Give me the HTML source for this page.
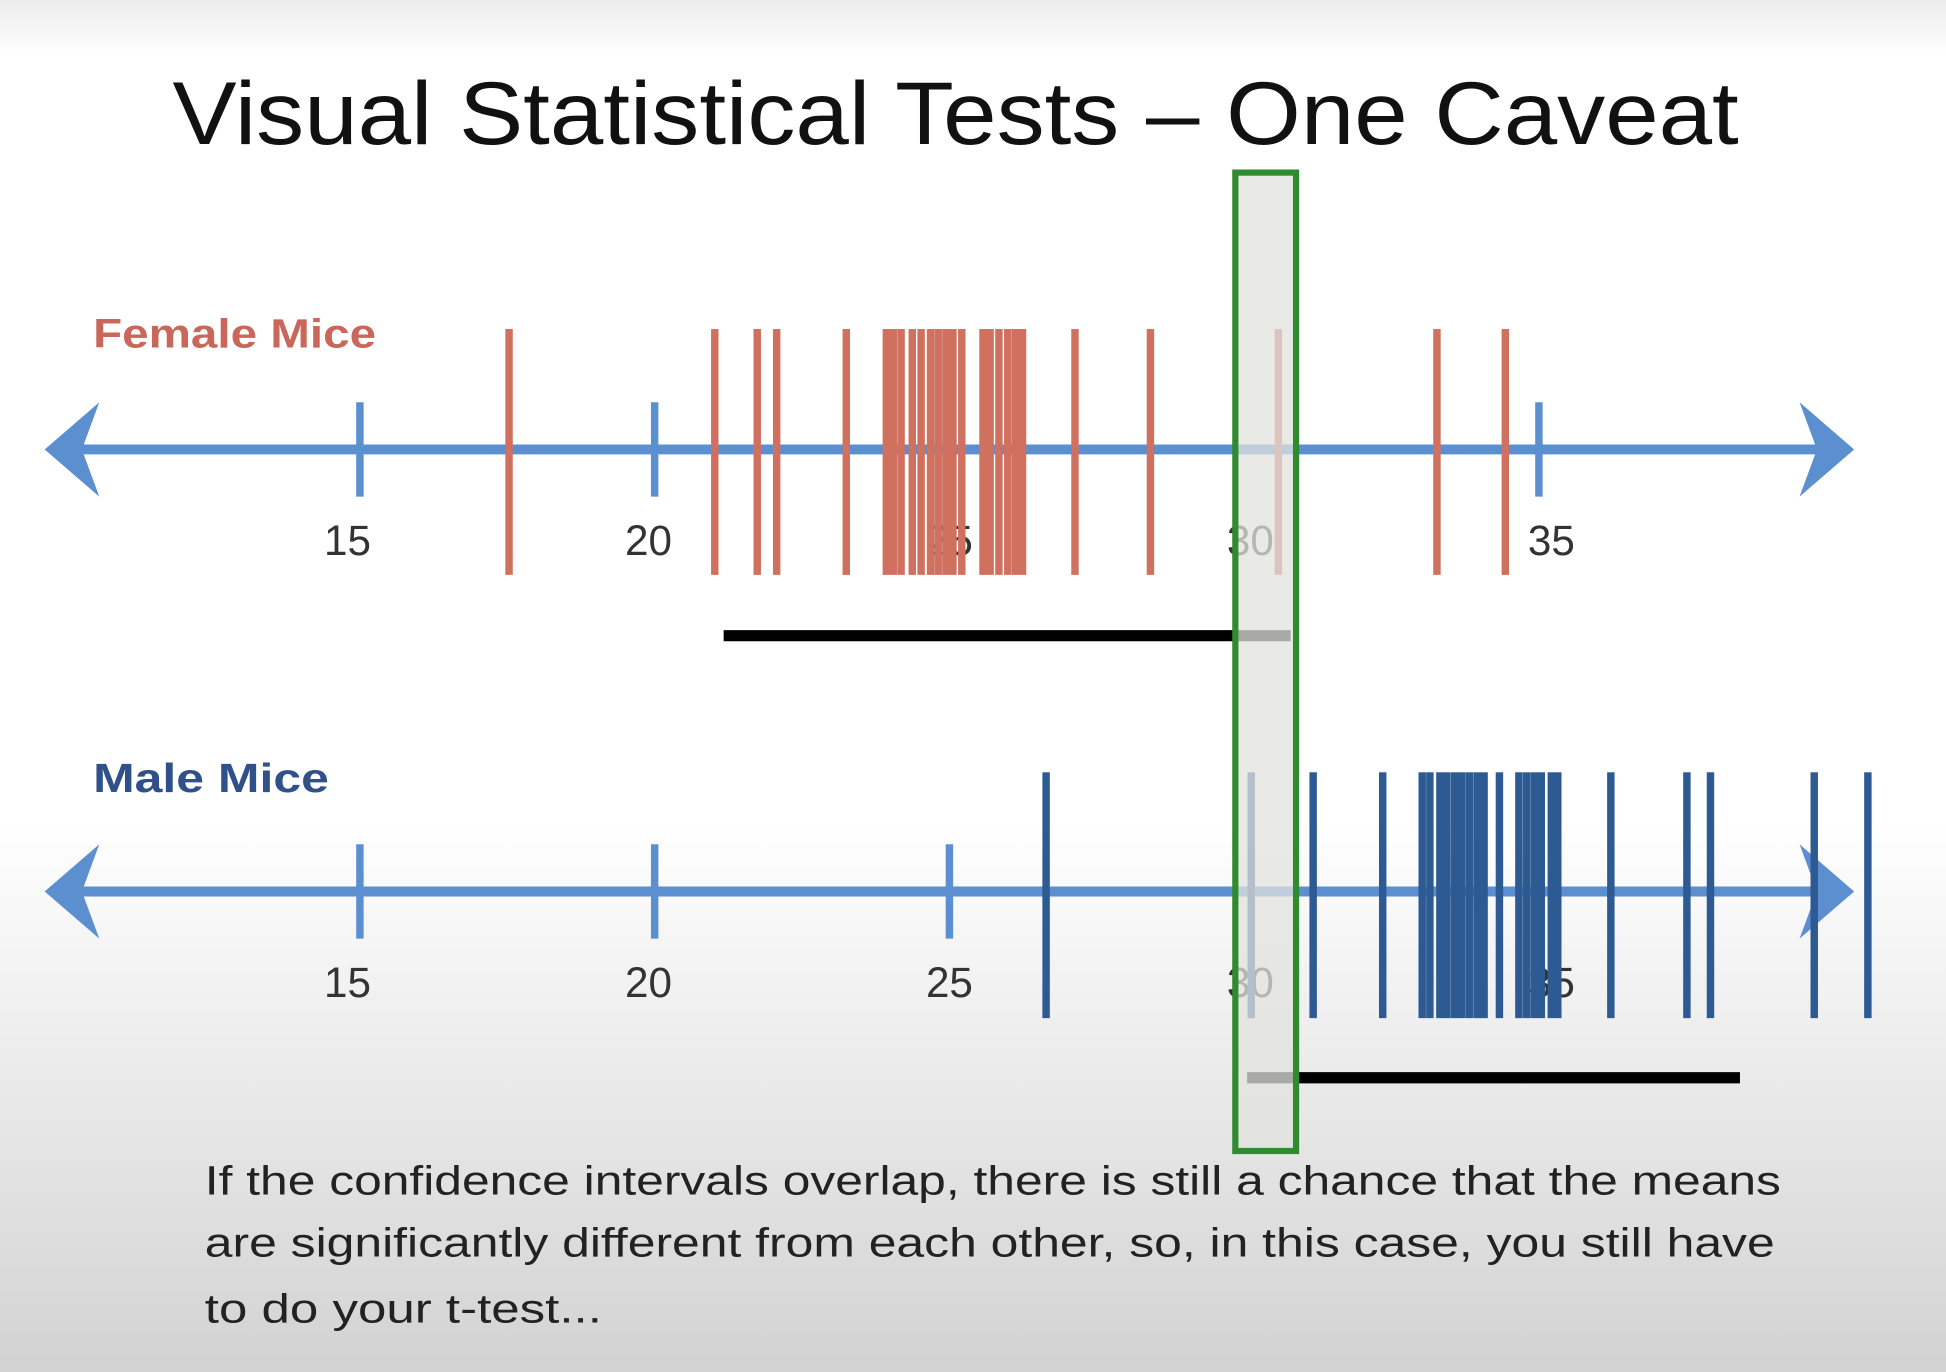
<!DOCTYPE html>
<html><head><meta charset="utf-8"><style>
html,body{margin:0;padding:0;width:1946px;height:1372px;overflow:hidden}
svg{display:block}
text{font-family:"Liberation Sans",sans-serif}
</style></head><body>
<svg id="chart" width="1946" height="1372" viewBox="0 0 1568 1105" preserveAspectRatio="none" xmlns="http://www.w3.org/2000/svg">
<defs><linearGradient id="bg" x1="0" y1="0" x2="0" y2="1">
<stop offset="0" stop-color="#ececec"/><stop offset="0.04" stop-color="#ffffff"/><stop offset="0.6" stop-color="#ffffff"/><stop offset="1" stop-color="#d2d2d2"/></linearGradient></defs>
<rect x="0" y="0" width="1568" height="1105" fill="url(#bg)"/>
<text x="770" y="116" font-size="72" text-anchor="middle" fill="#111" textLength="1262" lengthAdjust="spacingAndGlyphs">Visual Statistical Tests – One Caveat</text>
<text x="75" y="280" font-size="33" font-weight="bold" fill="#c8675a" textLength="228" lengthAdjust="spacingAndGlyphs">Female Mice</text>
<text x="75" y="638" font-size="33" font-weight="bold" fill="#2f5088" textLength="190" lengthAdjust="spacingAndGlyphs">Male Mice</text>
<g id="plot"></g>
<g font-size="33" fill="#222">
<text x="165" y="962" textLength="1270" lengthAdjust="spacingAndGlyphs">If the confidence intervals overlap, there is still a chance that the means</text>
<text x="165" y="1012" textLength="1265" lengthAdjust="spacingAndGlyphs">are significantly different from each other, so, in this case, you still have</text>
<text x="165" y="1065" textLength="320" lengthAdjust="spacingAndGlyphs">to do your t-test...</text>
</g>
</svg>
<script>
const tickValues = [15, 20, 25, 30, 35];
const femaleTickMarks = [15, 20, 35];
const maleTickMarks = [15, 20, 25];
const femaleValues = [17.53, 21.02, 21.74, 22.07, 23.25, 23.93, 24.05, 24.18, 24.37, 24.52, 24.68, 24.81, 24.94, 25.06, 25.21, 25.57, 25.69, 25.84, 25.99, 26.12, 26.24, 27.13, 28.41, 30.58, 33.27, 34.43];
const maleValues = [26.64, 30.12, 31.17, 32.35, 33.02, 33.15, 33.32, 33.44, 33.57, 33.69, 33.82, 33.95, 34.07, 34.33, 34.66, 34.79, 34.92, 35.04, 35.21, 35.32, 36.22, 37.51, 37.91, 39.67, 40.58];
const femaleCI = [21.17, 30.79];
const maleCI = [30.05, 38.41];
const overlapRange = [29.85, 30.88];

const NS = "http://www.w3.org/2000/svg";
const g = document.getElementById("plot");
function x(v){ return 290 + (v - 15) * 47.5; }
function lx(v){ return 280 + (v - 15) * 48.5; }
function mk(tag, attrs){ const e=document.createElementNS(NS,tag); for(const k in attrs) e.setAttribute(k,attrs[k]); g.appendChild(e); return e; }

function axis(name, y, ticks, color, values, barTop, barBot, ci, ciY){
  const ln = mk("line",{x1:50,y1:y,x2:1480,y2:y,stroke:"#5b8fd0","stroke-width":8});
  
  
  const la = mk("polygon",{points:`80,${y-38} 36,${y} 80,${y+38} 66,${y}`,fill:"#5b8fd0"});
  
  
  const ra = mk("polygon",{points:`1450,${y-38} 1494,${y} 1450,${y+38} 1464,${y}`,fill:"#5b8fd0"});
  
  
  ticks.forEach(t=>{
    const tk = mk("line",{x1:x(t),y1:y-38,x2:x(t),y2:y+38,stroke:"#5b8fd0","stroke-width":6});
    
    
  });
  tickValues.forEach(t=>{
    const tx = mk("text",{x:lx(t),y:y+85,"font-size":34,"text-anchor":"middle",fill:"#333"});
    tx.textContent = t;
    
    
  });
  values.forEach((v,i)=>{
    const b = mk("rect",{x:x(v)-3,y:barTop,width:6,height:barBot-barTop,fill:color});
    
    
  });
  const c = mk("line",{x1:x(ci[0]),y1:ciY,x2:x(ci[1]),y2:ciY,stroke:"#000","stroke-width":9});
  
  
}
axis("female", 362, femaleTickMarks, "#d0705f", femaleValues, 265, 463, femaleCI, 512);
axis("male", 718, maleTickMarks, "#2e5a94", maleValues, 622, 820, maleCI, 868);

const ov = mk("rect",{x:x(overlapRange[0]),y:139,width:x(overlapRange[1])-x(overlapRange[0]),height:788,fill:"rgba(225,225,222,0.75)",stroke:"#2e8b2e","stroke-width":5});


</script>
</body></html>
